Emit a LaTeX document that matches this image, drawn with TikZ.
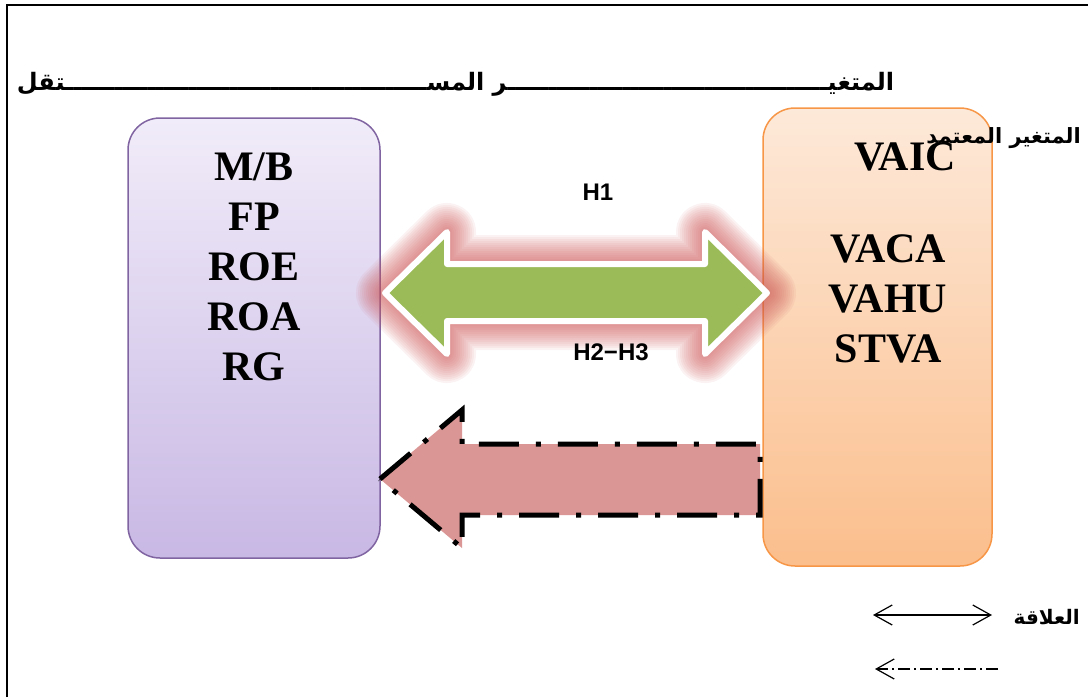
\documentclass[tikz,border=0pt]{standalone}
\usepackage{fontspec}
\setmainfont{Liberation Serif}
\newfontfamily\arabicfont[Script=Arabic]{DejaVu Sans}
\newfontfamily\hfont{Liberation Sans}
\TeXXeTstate=1
\usetikzlibrary{arrows.meta}

\definecolor{moradoborde}{HTML}{8064A2}
\definecolor{moradoarriba}{RGB}{241,236,249}
\definecolor{moradoabajo}{RGB}{200,184,228}
\definecolor{naranjaborde}{HTML}{F79646}
\definecolor{naranjaarriba}{RGB}{253,233,217}
\definecolor{naranjaabajo}{RGB}{251,190,140}
\definecolor{verde}{HTML}{9BBB59}
\definecolor{rosa}{HTML}{D99694}
\definecolor{rojobrillo}{RGB}{205,85,85}

% tatweel repetido
\newcommand{\tatweel}[1]{\ifnum#1>0 ـ\expandafter\tatweel\expandafter{\the\numexpr#1-1\relax}\fi}
% contorno de la flecha doble
\newcommand{\flechaverde}{(vi) -- ++(62,-61) -- ++(0,32) -- ++(258,0) -- ++(0,-32) -- (vd) -- ++(-62,61) -- ++(0,-33) -- ++(-258,0) -- ++(0,33) -- cycle}

\begin{document}
\begin{tikzpicture}[x=1pt, y=-1pt,
  caja/.style={draw, line width=1.5pt, rounded corners=32pt, inner sep=0pt},
  siglas/.style={font=\bfseries\fontsize{42}{50}\selectfont, align=center, inner sep=0pt},
  arabe/.style={font=\arabicfont\bfseries\fontsize{20}{24}\selectfont, inner sep=0pt},
  hipotesis/.style={font=\hfont\bfseries\fontsize{24}{28}\selectfont, inner sep=0pt},
  brillo/.style={draw=rojobrillo, opacity=0.07, line join=round},
  leyenda/.style={line width=1.2pt},
  punta/.tip={Straight Barb[length=18pt,width=20pt]}]

  \useasboundingbox (0,0) rectangle (1088,697);

  % Marco
  \draw[line width=2.5pt] (7,697) -- (7,5) -- (1088,5);

  % Cajas de variables
  \node[caja, draw=moradoborde, top color=moradoarriba, bottom color=moradoabajo,
        minimum width=252pt, minimum height=440pt] (izq) at (254,338) {};
  \node[caja, draw=naranjaborde, top color=naranjaarriba, bottom color=naranjaabajo,
        minimum width=229pt, minimum height=458pt] (der) at (877.5,337) {};

  % Flecha doble verde
  \coordinate (vi) at (385,293);
  \coordinate (vd) at (767,293);
  \foreach \w in {58,54,50,46,42,38,34,30,26,22,18,14,10}
    \draw[brillo, line width=\w pt] \flechaverde;
  \draw[draw=white, fill=verde, line width=6pt, line join=round] \flechaverde;

  % Flecha discontinua
  \coordinate (ri) at (380,479);
  \draw[fill=rosa, line width=5pt, dash pattern=on 40pt off 17pt on 5pt off 17pt]
    (ri) -- ++(82,-69) -- ++(0,34) -- ++(298,0) -- ++(0,71) -- ++(-298,0) -- ++(0,33) -- cycle;

  % Siglas
  \node[siglas, anchor=north] (varind) at (254,153) {M/B\\FP\\ROE\\ROA\\RG};
  \node[siglas, anchor=base] (vaic) at (905,170) {VAIC};
  \node[siglas, anchor=north] (componentes) at (888,234) {VACA\\VAHU\\STVA};

  % Hipotesis
  \node[hipotesis] (h1) at (598,192) {H1};
  \node[hipotesis] (h23) at (611,352) {H2−H3};

  % Textos en arabe
  \node[arabe, font=\arabicfont\bfseries\fontsize{24}{28}\selectfont, anchor=east] (titulo) at (894,84)
    {\beginR المتغي\tatweel{39}ر المس\tatweel{44}تقل\endR};
  \node[arabe, font=\arabicfont\bfseries\fontsize{21}{24}\selectfont, anchor=east] (dependiente) at (1081,138)
    {\beginR المتغير المعتمد\endR};
  \node[arabe, anchor=east] (relacion) at (1080,617) {\beginR العلاقة\endR};

  % Leyenda
  \coordinate (l1i) at (873,615);
  \coordinate (l1d) at (992,615);
  \draw[leyenda, punta-punta] (l1i) -- (l1d);
  \coordinate (l2i) at (875,669);
  \coordinate (l2d) at (998,669);
  \draw[leyenda, dash pattern=on 12pt off 4pt on 2pt off 4pt, -punta] (l2d) -- (l2i);
\end{tikzpicture}
\end{document}
